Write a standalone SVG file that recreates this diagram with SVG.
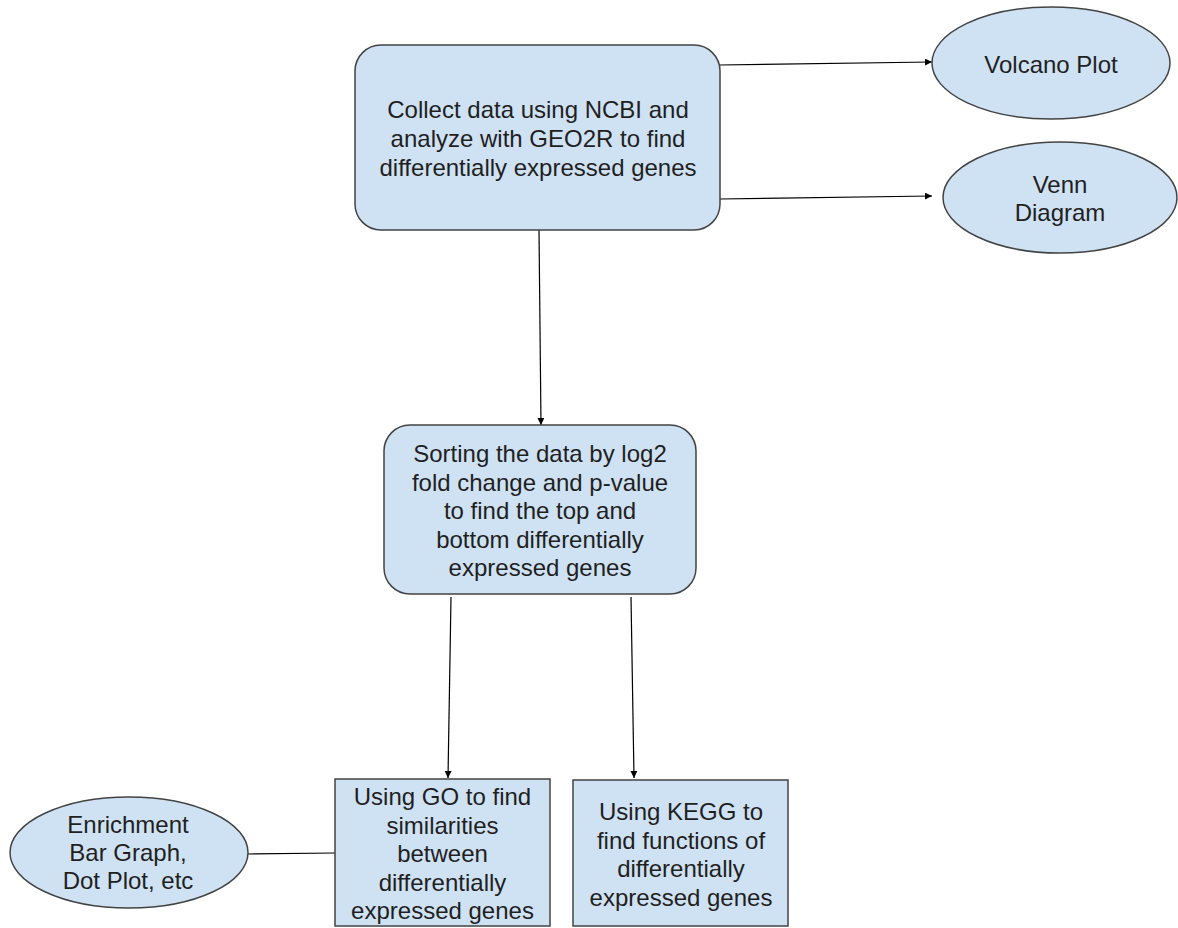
<svg xmlns="http://www.w3.org/2000/svg" width="1178" height="928" viewBox="0 0 1178 928">
<style>
.shape{fill:#cfe2f3;stroke:#434343;stroke-width:1.5}
.lbl{font-family:"Liberation Sans",Arial,sans-serif;font-size:24px;fill:#1f1f1f;text-anchor:middle}
.conn{stroke:#000;stroke-width:1.2;fill:none}
</style>
<defs>
<marker id="ah" viewBox="0 0 10 10" refX="10" refY="5" markerWidth="7" markerHeight="7" markerUnits="userSpaceOnUse" orient="auto">
<path d="M0,0 L10,5 L0,10 z" fill="#000"/>
</marker>
</defs>
<rect width="1178" height="928" fill="#fff"/>
<g id="connectors">
<line class="conn" x1="720" y1="65" x2="932" y2="62" marker-end="url(#ah)"/>
<line class="conn" x1="720" y1="199" x2="932" y2="196" marker-end="url(#ah)"/>
<line class="conn" x1="539" y1="230" x2="541" y2="425" marker-end="url(#ah)"/>
<line class="conn" x1="451" y1="597" x2="448" y2="778" marker-end="url(#ah)"/>
<line class="conn" x1="631" y1="597" x2="634" y2="778" marker-end="url(#ah)"/>
<line class="conn" x1="248" y1="854" x2="335" y2="853"/>
</g>
<g id="collect">
<rect class="shape" x="355" y="45" width="365" height="185" rx="26"/>
<text class="lbl"><tspan x="538" y="118">Collect data using NCBI and</tspan><tspan x="538" y="147">analyze with GEO2R to find</tspan><tspan x="538" y="176">differentially expressed genes</tspan></text>
</g>
<g id="volcano">
<ellipse class="shape" cx="1051" cy="63" rx="119" ry="56"/>
<text class="lbl" x="1051" y="73">Volcano Plot</text>
</g>
<g id="venn">
<ellipse class="shape" cx="1060" cy="197.5" rx="117" ry="55.5"/>
<text class="lbl"><tspan x="1060" y="193">Venn</tspan><tspan x="1060" y="221">Diagram</tspan></text>
</g>
<g id="sorting">
<rect class="shape" x="384" y="425" width="312" height="169" rx="26"/>
<text class="lbl"><tspan x="540" y="462">Sorting the data by log2</tspan><tspan x="540" y="490.5">fold change and p-value</tspan><tspan x="540" y="519">to find the top and</tspan><tspan x="540" y="547.5">bottom differentially</tspan><tspan x="540" y="576">expressed genes</tspan></text>
</g>
<g id="go">
<rect class="shape" x="335" y="779" width="215" height="147"/>
<text class="lbl"><tspan x="442.5" y="805">Using GO to find</tspan><tspan x="442.5" y="833.5">similarities</tspan><tspan x="442.5" y="862">between</tspan><tspan x="442.5" y="890.5">differentially</tspan><tspan x="442.5" y="919">expressed genes</tspan></text>
</g>
<g id="kegg">
<rect class="shape" x="573" y="780" width="215" height="146"/>
<text class="lbl"><tspan x="681" y="820">Using KEGG to</tspan><tspan x="681" y="849">find functions of</tspan><tspan x="681" y="877">differentially</tspan><tspan x="681" y="906">expressed genes</tspan></text>
</g>
<g id="enrichment">
<ellipse class="shape" cx="129" cy="852.5" rx="119" ry="55.5"/>
<text class="lbl"><tspan x="128" y="833">Enrichment</tspan><tspan x="128" y="861">Bar Graph,</tspan><tspan x="128" y="889">Dot Plot, etc</tspan></text>
</g>
</svg>
